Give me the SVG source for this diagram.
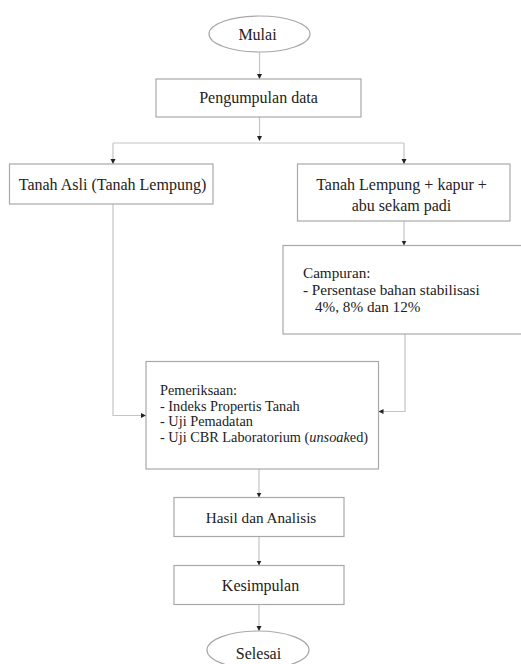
<svg xmlns="http://www.w3.org/2000/svg" width="521" height="664" viewBox="0 0 521 664">
<defs>
<marker id="ah" markerWidth="6" markerHeight="6" refX="5" refY="3" orient="auto" markerUnits="userSpaceOnUse">
<path d="M0,0.5 L5,3 L0,5.5 Z" fill="#222"/>
</marker>
<style>
.box{fill:#fff;stroke:#a8a8a8;stroke-width:1.2}
.ln{fill:none;stroke:#c4c4c4;stroke-width:1.2}
.t{font-family:"Liberation Serif","Times New Roman",serif;font-size:16px;fill:#222}
.c{text-anchor:middle}
.s{font-size:15.2px}
.xs{font-size:14.3px}
</style>
</defs>
<rect width="521" height="664" fill="#fff"/>
<g id="connectors">
<path class="ln" d="M259.5,52 V79" marker-end="url(#ah)"/>
<path class="ln" d="M259.5,117 V141" marker-end="url(#ah)"/>
<path class="ln" d="M113,143 H404"/>
<path class="ln" d="M113,143 V164" marker-end="url(#ah)"/>
<path class="ln" d="M404,143 V164" marker-end="url(#ah)"/>
<path class="ln" d="M404,221 V245.5" marker-end="url(#ah)"/>
<path class="ln" d="M113,204 V415.5 H146" marker-end="url(#ah)"/>
<path class="ln" d="M405,334 V411.5 H378.5" marker-end="url(#ah)"/>
<path class="ln" d="M259,469 V497.5" marker-end="url(#ah)"/>
<path class="ln" d="M259,536.5 V565.5" marker-end="url(#ah)"/>
<path class="ln" d="M259,604.5 V631" marker-end="url(#ah)"/>
</g>
<g id="mulai">
<ellipse class="box" cx="259.5" cy="34" rx="50.5" ry="18"/>
<text class="t c" x="257.5" y="39.5" font-size="17">Mulai</text>
</g>
<g id="pengumpulan">
<rect class="box" x="156" y="79" width="205" height="38"/>
<text class="t c" x="258.5" y="103">Pengumpulan data</text>
</g>
<g id="tanah-asli">
<rect class="box" x="9.5" y="164" width="203.5" height="40"/>
<text class="t c" x="112.5" y="189.5">Tanah Asli (Tanah Lempung)</text>
</g>
<g id="tanah-campur">
<rect class="box" x="297.5" y="164" width="212.5" height="57"/>
<text class="t c" x="401.5" y="190">Tanah Lempung + kapur +</text>
<text class="t c" x="401.5" y="211">abu sekam padi</text>
</g>
<g id="campuran">
<rect class="box" x="283" y="245.5" width="250" height="88.5"/>
<text class="t s" x="303" y="278">Campuran:</text>
<text class="t s" x="303" y="295">- Persentase bahan stabilisasi</text>
<text class="t s" x="315" y="312">4%, 8% dan 12%</text>
</g>
<g id="pemeriksaan">
<rect class="box" x="146" y="361.5" width="232.5" height="107.5"/>
<text class="t xs" x="160" y="395">Pemeriksaan:</text>
<text class="t xs" x="160" y="410.5">- Indeks Propertis Tanah</text>
<text class="t xs" x="160" y="426">- Uji Pemadatan</text>
<text class="t xs" x="160" y="441.5">- Uji CBR Laboratorium (<tspan font-style="italic">unsoak</tspan>ed)</text>
</g>
<g id="hasil">
<rect class="box" x="174" y="497.5" width="170" height="39"/>
<text class="t c s" x="261" y="522.5">Hasil dan Analisis</text>
</g>
<g id="kesimpulan">
<rect class="box" x="174" y="565.5" width="170" height="39"/>
<text class="t c" x="260.5" y="591">Kesimpulan</text>
</g>
<g id="selesai">
<ellipse class="box" cx="258" cy="650" rx="51" ry="19"/>
<text class="t c" x="258.5" y="659">Selesai</text>
</g>
</svg>
